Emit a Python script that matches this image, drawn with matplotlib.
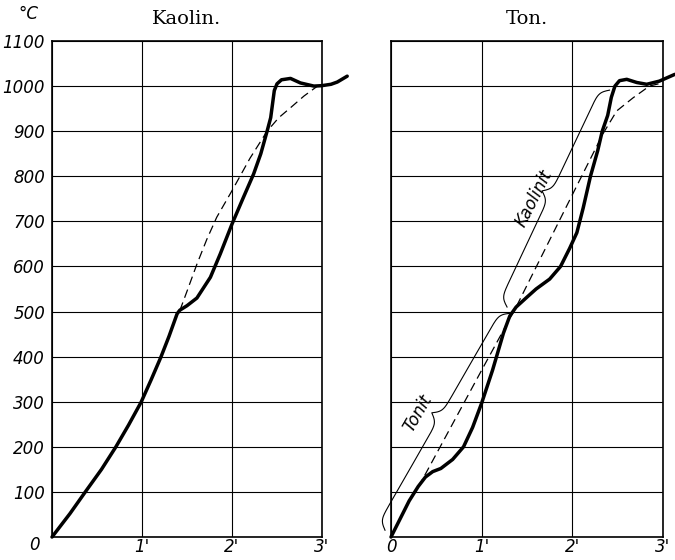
##################################################
# imports
##################################################

import numpy as np
import matplotlib
matplotlib.use('Agg')
import matplotlib.pyplot as plt

##################################################
# data (minutes, deg C)
##################################################

kaolin_x = [0, 0.2, 0.37, 0.55, 0.71, 0.85, 0.99, 1.1, 1.21, 1.3, 1.39, 1.42, 1.5, 1.61,
            1.76, 1.87, 2.0, 2.12, 2.24, 2.32, 2.39, 2.43, 2.45, 2.47, 2.5, 2.55, 2.65,
            2.76, 2.91, 3.0, 3.1, 3.17, 3.28]
kaolin_y = [0, 52, 100, 150, 200, 248, 299, 348, 399, 445, 495, 503, 513, 530,
            576, 628, 694, 750, 805, 850, 900, 930, 960, 990, 1005, 1014, 1017,
            1007, 1000, 1001, 1004, 1009, 1022]

kaolin_dash_x = [1.42, 1.5, 1.61, 1.72, 1.83, 2.0, 2.2, 2.39, 2.52, 2.65, 2.8, 2.95]
kaolin_dash_y = [502, 545, 605, 660, 709, 768, 840, 900, 930, 952, 978, 1000]

ton_x = [0, 0.1, 0.2, 0.3, 0.38, 0.46, 0.55, 0.68, 0.8, 0.9, 1.0, 1.12, 1.24, 1.31,
         1.38, 1.5, 1.6, 1.75, 1.87, 1.97, 2.05, 2.12, 2.2, 2.28, 2.33, 2.39, 2.43,
         2.47, 2.52, 2.6, 2.71, 2.82, 2.96, 3.13]
ton_y = [0, 40, 80, 112, 133, 145, 152, 172, 200, 243, 297, 370, 452, 490,
         510, 532, 550, 572, 600, 640, 675, 730, 800, 857, 900, 935, 975,
         1000, 1012, 1015, 1008, 1004, 1011, 1026]

ton_dash_x = [0.3, 0.65, 1.0, 1.38, 1.97, 2.34, 2.49, 2.67, 2.85, 2.95]
ton_dash_y = [110, 240, 370, 510, 747, 895, 945, 974, 1000, 1005]

# brace ends and labels in the Ton panel
braces = [((-0.066, 15), (1.31, 496)), ((1.28, 510), (2.41, 991))]
brace_labels = ['Tonit', 'Kaolinit']
label_pos = [(0.30, 274), (1.58, 750)]
label_rot = [60, 63]

yticks = list(range(0, 1200, 100))
xticks = [0, 1, 2, 3]
xlabels = ['0', "1'", "2'", "3'"]

##################################################
# functions
##################################################

def brace(ax, p0, p1, w=18, beta=0.3):
    # curly brace drawn in pixel space, tip pointing to the upper left
    tr = ax.transData
    a = tr.transform(p0)
    b = tr.transform(p1)
    d = b - a
    L = np.hypot(*d)
    u = d / L
    n = np.array([-u[1], u[0]])
    s = np.linspace(0, L / 2, 200)
    h = 1 / (1 + np.exp(-beta * (s - s[0]))) + 1 / (1 + np.exp(-beta * (s - s[-1]))) - 0.5
    s_full = np.concatenate([s, L - s[::-1][1:]])
    h_full = np.concatenate([h, h[::-1][1:]])
    pts = a + np.outer(s_full, u) + np.outer(h_full * w, n)
    xy = tr.inverted().transform(pts)
    ax.plot(xy[:, 0], xy[:, 1], color='black', lw=0.8, clip_on=False)

def setup(ax, title):
    ax.set_xlim(0, 3)
    ax.set_ylim(0, 1100)
    ax.set_xticks(xticks)
    ax.set_yticks(yticks)
    ax.grid(True, color='black', lw=0.8)
    ax.tick_params(length=0, labelsize=12)
    ax.tick_params(axis='y', pad=5)
    ax.tick_params(axis='x', pad=1)
    for sp in ax.spines.values():
        sp.set_linewidth(1.2)
    ax.set_title(title, family='DejaVu Serif', fontstyle='normal', fontsize=14, pad=12)

##################################################
# main
##################################################

plt.rcParams['font.family'] = 'DejaVu Sans'
plt.rcParams['font.style'] = 'italic'

fig = plt.figure(figsize=(6.75, 5.6), dpi=100)
ax1 = fig.add_axes([52 / 675, 23 / 560, 270 / 675, 496 / 560])
ax2 = fig.add_axes([391 / 675, 23 / 560, 272 / 675, 496 / 560])

setup(ax1, 'Kaolin.')
setup(ax2, 'Ton.')

ax1.set_xticklabels([''] + xlabels[1:])
ax1.set_yticklabels([''] + [str(v) for v in yticks[1:]])
ax1.text(-0.19, -18, '0', fontsize=12, ha='center', va='center', clip_on=False)
ax2.set_xticklabels(xlabels)
ax2.set_yticklabels([])

fig.text(28 / 675, 1 - 14 / 560, '°C', fontsize=12, ha='center', va='center')

ax1.plot(kaolin_x, kaolin_y, color='black', lw=2.5, clip_on=False, solid_capstyle='round')
ax1.plot(kaolin_dash_x, kaolin_dash_y, color='black', lw=0.9, dashes=(7, 4))

ax2.plot(ton_x, ton_y, color='black', lw=2.5, clip_on=False, solid_capstyle='round')
ax2.plot(ton_dash_x, ton_dash_y, color='black', lw=0.9, dashes=(7, 4))

for (p0, p1), lab, pos, rot in zip(braces, brace_labels, label_pos, label_rot):
    brace(ax2, p0, p1)
    ax2.text(pos[0], pos[1], lab, fontsize=12, rotation=rot, ha='center', va='center')

fig.savefig('out.png', dpi=100)
plt.close()
